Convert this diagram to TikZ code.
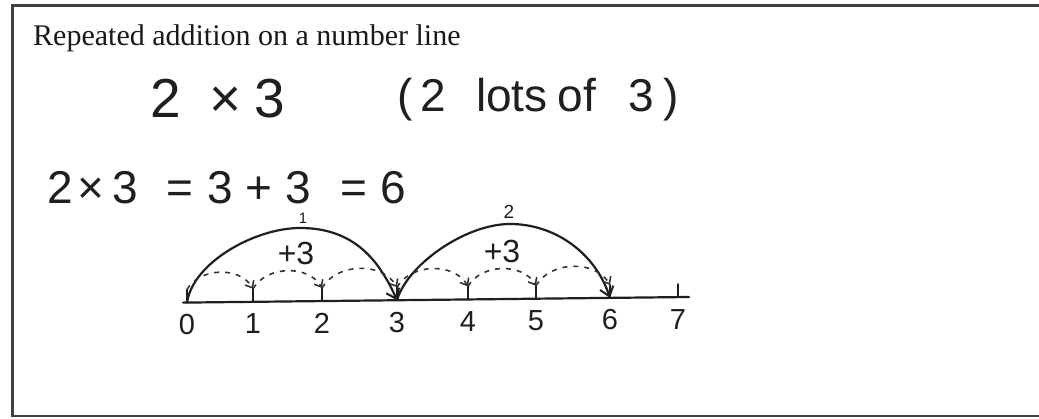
\documentclass[tikz,border=0pt]{standalone}
\usepackage{fontspec}
\setmainfont{Liberation Serif}
\newfontfamily\hand{Liberation Sans}
\usetikzlibrary{arrows.meta,calc}
\begin{document}
\begin{tikzpicture}[x=1pt,y=-1pt,
  ink/.style={draw=black!88, line width=2.2pt, line cap=round, line join=round},
  bigarc/.style={ink, -{Straight Barb[length=9pt,width=14pt,line width=2pt]}},
  smallarc/.style={draw=black!80, line width=1.6pt, dash pattern=on 5pt off 6pt,
     -{Straight Barb[length=6pt,width=10pt,line width=1.6pt]}},
  tickmark/.style={ink, line width=2pt},
  numlab/.style={font=\hand\fontsize{29}{29}\selectfont, text=black!88, inner sep=0pt},
  handtxt/.style={text=black!88, inner sep=0pt, anchor=base west},
  framestyle/.style={draw=black!75, line width=2.4pt}
]
% canvas
\useasboundingbox (0,0) rectangle (1039,418);
\fill[white] (0,0) rectangle (1039,418);
% frame (left, top, bottom)
\coordinate (ftl) at (12.5,5.5);
\coordinate (ftr) at (1039,5.5);
\coordinate (fbl) at (12.5,416);
\coordinate (fbr) at (1039,416);
\draw[framestyle] (ftr) -- (ftl) -- (fbl) -- (fbr);

% title
\node[anchor=base west, inner sep=0pt, text=black!90, font=\fontsize{30}{30}\selectfont] (title) at (33,45)
  {Repeated addition on a number line};

% handwritten lines
\node[handtxt, font=\hand\fontsize{55}{55}\selectfont] (mult) at (150,117)
  {2\hspace{29pt}×\hspace{13pt}3};
\node[handtxt, font=\hand\fontsize{46}{46}\selectfont] (lots) at (397,111)
  {(\hspace{8pt}2\hspace{30pt}lots\hspace{10pt}of\hspace{32pt}3\hspace{10pt})};
\node[handtxt, font=\hand\fontsize{46}{46}\selectfont] (eq) at (47,203)
  {2\hspace{5pt}×\hspace{8pt}3\hspace{28pt}=\hspace{14pt}3\hspace{13pt}+\hspace{13pt}3\hspace{29pt}=\hspace{14pt}6};

% number line points
\coordinate (p0) at (187,302.5);
\coordinate (p1) at (253,301.8);
\coordinate (p2) at (322,301);
\coordinate (p3) at (397,300.2);
\coordinate (p4) at (468,299.4);
\coordinate (p5) at (536,298.7);
\coordinate (p6) at (610,297.9);
\coordinate (p7) at (678,297.1);
\coordinate (lineL) at (183,302.6);
\coordinate (lineR) at (689,297);
\draw[ink] (lineL) -- (lineR);

% tick tops
\foreach \i in {0,...,7} { \coordinate (t\i) at ($(p\i)+(0,-13)$); }
\foreach \i in {0,...,7} { \draw[tickmark] (p\i) -- (t\i); }

% labels
\foreach \i/\lab in {0/0,1/1,2/2,3/3,4/4,5/5,6/6,7/7} {
  \node[numlab] (n\i) at ($(p\i)+(0,22)$) {\lab};
}

% apex points of big jumps
\coordinate (a1) at (300,228);
\coordinate (a2) at (510,224);
\draw[bigarc] (p0) .. controls +(6,-40) and +(-45,0) .. (a1)
                   .. controls +(50,0) and +(-20,-45) .. (p3);
\draw[bigarc] (p3) .. controls +(10,-35) and +(-45,0) .. (a2)
                   .. controls +(45,0) and +(-15,-45) .. (p6);

% small dashed jumps
\foreach \i/\j in {0/1,1/2,2/3,3/4,4/5,5/6} {
  \draw[smallarc] (t\i) to[out=60,in=120] (t\j);
}

% arc labels
\node[numlab, font=\hand\fontsize{15}{15}\selectfont] (c1) at (303,218) {1};
\node[numlab, font=\hand\fontsize{19}{19}\selectfont] (c2) at (509,212) {2};
\node[numlab, font=\hand\fontsize{32}{32}\selectfont] (s1) at (296,253) {+3};
\node[numlab, font=\hand\fontsize{32}{32}\selectfont] (s2) at (502,251) {+3};
\end{tikzpicture}
\end{document}
